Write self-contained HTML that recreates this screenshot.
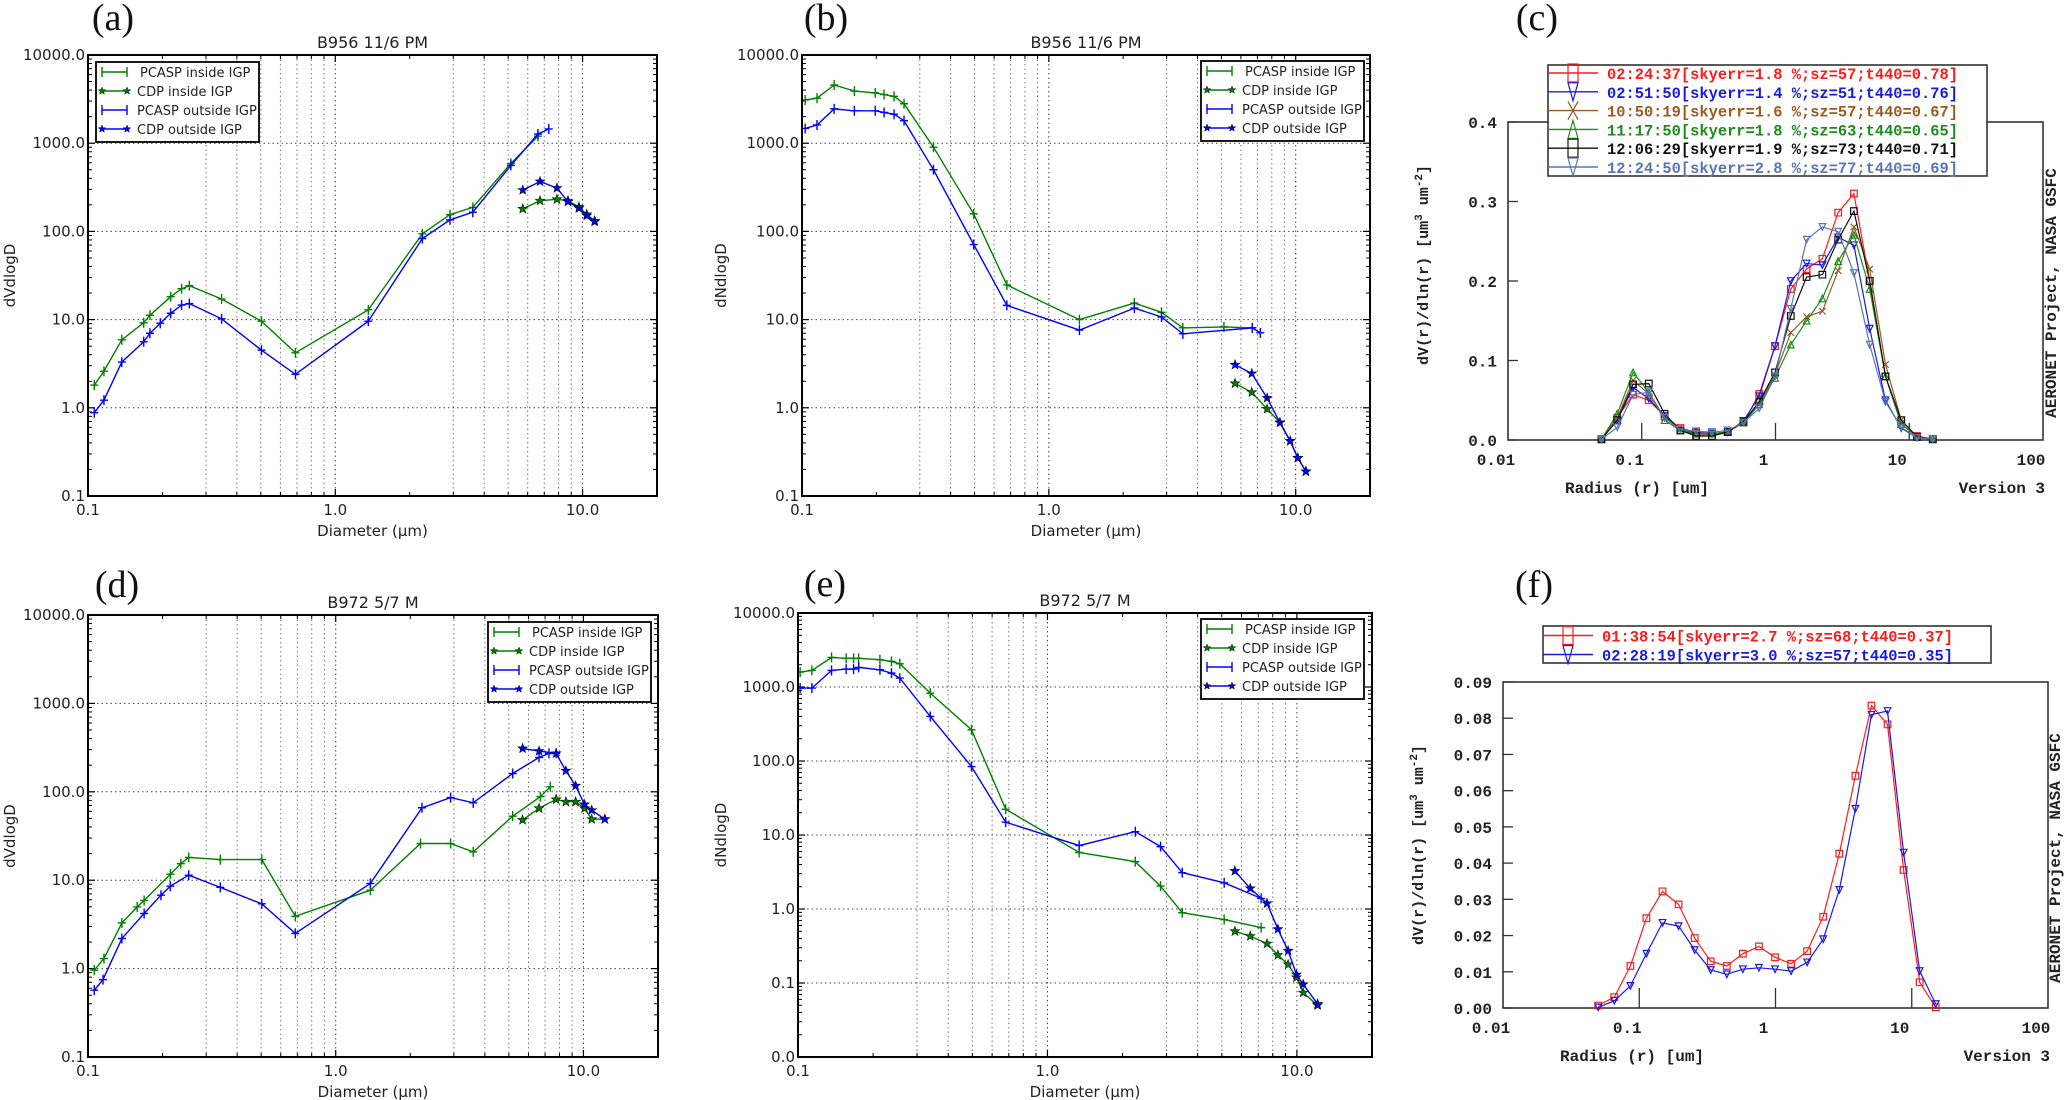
<!DOCTYPE html>
<html><head><meta charset="utf-8"><style>
html,body{margin:0;padding:0;background:#fff;}
svg{display:block;}
.mpl{font-family:"DejaVu Sans","Liberation Sans",sans-serif;}
.aer{font-family:"Liberation Mono","DejaVu Sans Mono",monospace;font-weight:bold;}
.pl{font-family:"Liberation Serif",serif;}
</style></head><body>
<svg id="fig" width="2067" height="1100" viewBox="0 0 2067 1100" xmlns="http://www.w3.org/2000/svg"></svg>
<script>
// ---------- panel (a) data ----------
const aPcaspInD = [0.106,0.116,0.137,0.168,0.178,0.216,0.239,0.257,0.347,0.503,0.69,1.36,2.25,2.91,3.6,5.13,6.6];
const aPcaspInV = [1.81,2.6,5.9,9.2,11.2,18.2,22.4,24.2,17.1,9.6,4.2,12.9,94,155,187,590,1200];
const aPcaspOutD = [0.106,0.116,0.137,0.168,0.178,0.196,0.216,0.239,0.257,0.347,0.503,0.69,1.36,2.25,2.91,3.6,5.13,6.6,7.3];
const aPcaspOutV = [0.88,1.22,3.3,5.6,7.0,9.1,11.8,14.6,15.2,10.2,4.5,2.4,9.6,83,135,165,560,1270,1450];
const aCdpD = [5.73,6.73,7.88,8.73,9.67,10.4,11.2];
const aCdpInV = [180,223,231,223,189,156,132];
const aCdpOutV = [294,368,310,217,183,151,129];
// ---------- panel (b) data ----------
const bPcaspInD = [0.103,0.115,0.135,0.163,0.198,0.215,0.236,0.259,0.341,0.496,0.676,1.33,2.22,2.86,3.49,5.12,6.67];
const bPcaspInV = [3090,3240,4570,3900,3720,3560,3400,2800,900,158,24.7,10,15.4,12.1,8.06,8.27,8.06];
const bPcaspOutD = [0.103,0.115,0.135,0.163,0.198,0.215,0.236,0.259,0.341,0.496,0.676,1.33,2.22,2.86,3.49,6.67,7.19];
const bPcaspOutV = [1470,1610,2450,2330,2330,2230,2130,1800,500,71,14.5,7.6,13.5,10.7,6.9,8.06,7.08];
const bCdpD = [5.68,6.64,7.66,8.63,9.5,10.2,11.0];
const bCdpInV = [1.89,1.5,0.97,0.68,0.42,0.27,0.19];
const bCdpOutV = [3.07,2.45,1.29,0.68,0.42,0.27,0.19];
// ---------- panel (d) data ----------
const dPcaspInD = [0.106,0.116,0.137,0.158,0.1685,0.215,0.237,0.255,0.342,0.503,0.687,1.38,2.2,2.91,3.59,5.18,6.7,7.35];
const dPcaspInV = [0.96,1.3,3.29,4.99,5.9,11.7,15.4,18.1,17.1,17.1,3.9,7.7,26,26,20.9,53,88,114];
const dPcaspOutD = [0.106,0.115,0.137,0.1685,0.197,0.215,0.255,0.342,0.503,0.687,1.38,2.23,2.91,3.59,5.18,6.62,7.26,7.76];
const dPcaspOutV = [0.57,0.75,2.19,4.2,6.76,8.55,11.4,8.3,5.4,2.5,9.2,66,86,75,161,245,272,272];
const dCdpD = [5.68,6.62,7.76,8.5,9.3,10.1,10.8,12.2];
const dCdpInV = [48,65,82,77,77,65,49,49];
const dCdpOutV = [309,289,272,173,117,72,62,49];
// ---------- panel (e) data ----------
const ePcaspD = [0.102,0.1137,0.1363,0.156,0.167,0.175,0.213,0.237,0.256,0.339,0.496,0.68,1.34,2.25,2.84,3.47,5.11,7.19];
const ePcaspInV = [1590,1675,2510,2440,2440,2440,2340,2220,2060,826,264,22.3,5.8,4.36,2.04,0.89,0.72,0.56];
const ePcaspOutV = [966,966,1675,1746,1746,1840,1710,1540,1320,400,84,14.9,7.2,11.1,6.96,3.1,2.26,1.39];
const eCdpD = [5.64,6.5,7.59,8.39,9.22,9.96,10.6,12.1];
const eCdpInV = [0.50,0.43,0.34,0.238,0.178,0.119,0.074,0.050];
const eCdpOutV = [3.26,1.9,1.19,0.535,0.272,0.13,0.096,0.052];
// ---------- AERONET radius bins ----------
const aerR = [0.05,0.0656,0.0861,0.1129,0.1482,0.1944,0.2551,0.3347,0.4392,0.5762,0.7561,0.992,1.3016,1.7078,2.2407,2.94,3.8575,5.0613,6.6407,8.7131,11.4323,15.0];
// ---------- panel (c) data ----------
const cLabels = ["02:24:37[skyerr=1.8 %;sz=57;t440=0.78]","02:51:50[skyerr=1.4 %;sz=51;t440=0.76]","10:50:19[skyerr=1.6 %;sz=57;t440=0.67]","11:17:50[skyerr=1.8 %;sz=63;t440=0.65]","12:06:29[skyerr=1.9 %;sz=73;t440=0.71]","12:24:50[skyerr=2.8 %;sz=77;t440=0.69]"];
const c1 = [0.001,0.028,0.057,0.050,0.030,0.015,0.010,0.008,0.010,0.022,0.058,0.118,0.190,0.215,0.228,0.286,0.310,0.200,0.080,0.020,0.005,0.001];
const c2 = [0.001,0.025,0.066,0.052,0.030,0.013,0.009,0.008,0.010,0.024,0.055,0.118,0.200,0.222,0.220,0.255,0.245,0.140,0.050,0.015,0.003,0.001];
const c3 = [0.001,0.028,0.075,0.058,0.028,0.013,0.006,0.007,0.010,0.022,0.045,0.082,0.135,0.155,0.162,0.213,0.268,0.215,0.095,0.025,0.004,0.001];
const c4 = [0.001,0.033,0.085,0.060,0.025,0.012,0.008,0.008,0.010,0.022,0.045,0.078,0.120,0.150,0.178,0.225,0.258,0.190,0.080,0.020,0.004,0.001];
const c5 = [0.001,0.025,0.070,0.071,0.033,0.012,0.005,0.005,0.010,0.023,0.048,0.085,0.156,0.205,0.208,0.252,0.288,0.200,0.080,0.025,0.004,0.001];
const c6 = [0.001,0.016,0.057,0.060,0.028,0.013,0.011,0.010,0.012,0.022,0.040,0.080,0.165,0.252,0.268,0.262,0.210,0.120,0.048,0.016,0.003,0.001];
const cYTicks = ["0.0","0.1","0.2","0.3","0.4"];
// ---------- panel (f) data ----------
const fLabels = ["01:38:54[skyerr=2.7 %;sz=68;t440=0.37]","02:28:19[skyerr=3.0 %;sz=57;t440=0.35]"];
const f1 = [0.0007,0.003,0.0116,0.0248,0.0322,0.0286,0.0193,0.0129,0.0116,0.015,0.017,0.014,0.0122,0.0157,0.0252,0.0426,0.0641,0.0835,0.0783,0.0381,0.0071,0.0002];
const f2 = [0.0002,0.002,0.0061,0.015,0.0235,0.0226,0.016,0.0105,0.0093,0.0107,0.0111,0.0107,0.0102,0.0126,0.019,0.0326,0.055,0.081,0.082,0.0429,0.0102,0.0011];
const fYTicks = ["0.00","0.01","0.02","0.03","0.04","0.05","0.06","0.07","0.08","0.09"];
const mplYTicks = ["10000.0","1000.0","100.0","10.0","1.0","0.1","0.0"];
const mplXTicks = ["0.1","1.0","10.0"];
const aerXTicks = ["0.01","0.1","1","10","100"];

const NS = "http://www.w3.org/2000/svg";
const fig = document.getElementById('fig');
function mk(tag, name, parent, inter) {
  const el = document.createElementNS(NS, tag);
  
  
  (parent || fig).appendChild(el);
  return el;
}
function at(el, o) { for (const k in o) el.setAttribute(k, o[k]); return el; }
function txt(name, parent, x, y, s, o) { const t = mk('text', name, parent); at(t, Object.assign({x:x, y:y}, o || {})); t.textContent = s; return t; }

// ---------------- matplotlib style log-log panels ----------------
function mkLog(p) {
  p.lx = v => p.x0 + (Math.log10(v) - Math.log10(p.xmin)) / (Math.log10(p.xmax) - Math.log10(p.xmin)) * (p.x1 - p.x0);
  p.ly = v => p.y0 + (Math.log10(p.ymax) - Math.log10(v)) / (Math.log10(p.ymax) - Math.log10(p.ymin)) * (p.y1 - p.y0);
  return p;
}
function starPath(cx, cy, r) {
  let d = '';
  for (let i = 0; i < 10; i++) {
    const rr = i % 2 ? r * 0.42 : r;
    const a = -Math.PI / 2 + i * Math.PI / 5;
    d += (i ? 'L' : 'M') + (cx + rr * Math.cos(a)).toFixed(1) + ' ' + (cy + rr * Math.sin(a)).toFixed(1);
  }
  return d + 'Z';
}
function mplSeries(p, g, D, V, color, mark, name) {
  const sg = mk('g', name, g);
  const pts = D.map((d, i) => p.lx(d).toFixed(1) + ',' + p.ly(V[i]).toFixed(1)).join(' ');
  const pl = mk('polyline', name + '-line', sg);
  at(pl, {points: pts, fill: 'none', stroke: color, 'stroke-width': 1.4});
  D.forEach((d, i) => {
    const x = p.lx(d), y = p.ly(V[i]);
    if (mark === 'plus') {
      const m = mk('path', name + '-marker', sg);
      at(m, {d: `M${x-4} ${y}H${x+4}M${x} ${y-5}V${y+5}`, stroke: color, 'stroke-width': 1.4});
    } else {
      const m = mk('path', name + '-marker', sg);
      at(m, {d: starPath(x, y, 5), fill: color, stroke: '#111', 'stroke-width': 0.6});
    }
  });
}
function mplPanel(p) {
  const g = mk('g', p.id, fig);
  g.setAttribute('class', 'mpl');
  const cid = 'clip-' + p.id;
  const cp = mk('clipPath', cid, g); cp.setAttribute('id', cid);
  const cr = mk('rect', cid + '-rect', cp); at(cr, {x: p.x0, y: p.y0, width: p.x1 - p.x0, height: p.y1 - p.y0});
  const gg = mk('g', p.id + '-grid', g);
  // vertical grid
  for (let e = -1; e <= 1; e++) for (let k = 1; k <= 9; k++) {
    const v = k * Math.pow(10, e); if (v < p.xmin || v > p.xmax) continue;
    const x = p.lx(v);
    if (k > 1 && (k === 2 && e < 1)) continue;
    const l = mk('line', k === 1 ? 'x-major-gridline' : 'x-minor-gridline', gg);
    at(l, {x1: x, x2: x, y1: p.y0, y2: p.y1, stroke: k === 1 ? '#444' : '#777', 'stroke-width': 1, 'stroke-dasharray': '1.5,3'});
  }
  // horizontal grid & y ticks
  const nd = Math.round(Math.log10(p.ymax) - Math.log10(p.ymin));
  for (let i = 0; i <= nd; i++) {
    const v = p.ymax / Math.pow(10, i); const y = p.ly(v);
    if (i > 0 && i < nd) { const l = mk('line', 'y-major-gridline', gg); at(l, {x1: p.x0, x2: p.x1, y1: y, y2: y, stroke: '#444', 'stroke-width': 1, 'stroke-dasharray': '1.5,3'}); }
    const lab = txt('y-tick-label', g, p.x0 - 3, y + 5, mplYTicks[Math.min(i + (p.ymax === 1e4 ? 0 : 0), mplYTicks.length - 1)], {'text-anchor': 'end', 'font-size': 15, fill: '#222'});
    if (i === nd && p.ymin < 0.1) lab.textContent = '0.0';
    for (const side of [p.x0, p.x1]) {
      const t = mk('line', 'y-major-tick', g); const dir = side === p.x0 ? 1 : -1;
      at(t, {x1: side, x2: side + dir * 7, y1: y, y2: y, stroke: '#000', 'stroke-width': 1.2});
      if (i < nd) for (let k = 2; k <= 9; k++) {
        const yy = p.ly(v / 10 * k);
        const tm = mk('line', 'y-minor-tick', g);
        at(tm, {x1: side, x2: side + dir * 4, y1: yy, y2: yy, stroke: '#000', 'stroke-width': 1});
      }
    }
  }
  // x ticks
  mplXTicks.forEach((s, i) => {
    const v = 0.1 * Math.pow(10, i); const x = p.lx(v);
    txt('x-tick-label', g, x, p.y1 + 19, s, {'text-anchor': 'middle', 'font-size': 15, fill: '#222'});
    for (const side of [p.y0, p.y1]) { const t = mk('line', 'x-major-tick', g); const dir = side === p.y1 ? -1 : 1; at(t, {x1: x, x2: x, y1: side, y2: side + dir * 7, stroke: '#000', 'stroke-width': 1.2}); }
    for (let k = 2; k <= 9; k++) { const vv = v * k; if (vv > p.xmax) continue; const xx = p.lx(vv);
      for (const side of [p.y0, p.y1]) { const t = mk('line', 'x-minor-tick', g); const dir = side === p.y1 ? -1 : 1; at(t, {x1: xx, x2: xx, y1: side, y2: side + dir * 4, stroke: '#000', 'stroke-width': 1}); } }
  });
  // series
  const sg = mk('g', p.id + '-series', g); sg.setAttribute('clip-path', 'url(#' + cid + ')');
  mplSeries(p, sg, p.piD, p.piV, '#008000', 'plus', 'pcasp-inside-igp');
  mplSeries(p, sg, p.cD, p.ciV, '#008000', 'star', 'cdp-inside-igp');
  mplSeries(p, sg, p.poD, p.poV, '#0000ff', 'plus', 'pcasp-outside-igp');
  mplSeries(p, sg, p.cD, p.coV, '#0000ff', 'star', 'cdp-outside-igp');
  // frame
  const fr = mk('rect', p.id + '-frame', g);
  at(fr, {x: p.x0, y: p.y0, width: p.x1 - p.x0, height: p.y1 - p.y0, fill: 'none', stroke: '#000', 'stroke-width': 2});
  // legend
  const lg = mk('g', 'legend', g, true);
  const lb = mk('rect', 'legend-box', lg);
  at(lb, {x: p.lgx, y: p.lgy, width: 163, height: 80, fill: '#fff', stroke: '#000', 'stroke-width': 1.8});
  const items = [['PCASP inside IGP', '#008000', 'plus'], ['CDP inside IGP', '#008000', 'star'], ['PCASP outside IGP', '#0000ff', 'plus'], ['CDP outside IGP', '#0000ff', 'star']];
  items.forEach((it, i) => {
    const y = p.lgy + 10 + 19 * i; const x0 = p.lgx + 6, x1 = p.lgx + 31;
    const ent = mk('g', 'legend-entry', lg, true);
    const l = mk('line', 'legend-line', ent); at(l, {x1: x0, x2: x1, y1: y, y2: y, stroke: it[1], 'stroke-width': 1.4});
    for (const xx of [x0, x1]) {
      const m = mk('path', 'legend-marker', ent);
      if (it[2] === 'plus') at(m, {d: `M${xx} ${y-5}V${y+5}`, stroke: it[1], 'stroke-width': 1.4});
      else at(m, {d: starPath(xx, y, 4), fill: it[1], stroke: '#111', 'stroke-width': 0.5});
    }
    txt('legend-label', ent, p.lgx + (i === 0 ? 44 : 41), y + 5, it[0], {'font-size': 13, fill: '#222'});
  });
  // titles
  txt('chart-title', g, (p.x0 + p.x1) / 2, p.y0 - 7, p.title, {'text-anchor': 'middle', 'font-size': 16, fill: '#222'});
  txt('x-axis-title', g, (p.x0 + p.x1) / 2, p.y1 + 40, 'Diameter (\u00b5m)', {'text-anchor': 'middle', 'font-size': 15, fill: '#222'});
  const yt = txt('y-axis-title', g, 0, 0, p.ylab, {'text-anchor': 'middle', 'font-size': 15, fill: '#222'});
  yt.setAttribute('transform', `translate(${p.ylx},${(p.y0 + p.y1) / 2}) rotate(-90)`);
  const pl = txt('panel-label', fig, p.plx, p.ply, p.plab, {'text-anchor': 'middle', 'font-size': 38, fill: '#111'});
  pl.setAttribute('class', 'pl');
}

mplPanel(mkLog({id: 'panel-a', x0: 88, x1: 657, y0: 55, y1: 496, xmin: 0.1, xmax: 20, ymin: 0.1, ymax: 1e4,
  piD: aPcaspInD, piV: aPcaspInV, poD: aPcaspOutD, poV: aPcaspOutV, cD: aCdpD, ciV: aCdpInV, coV: aCdpOutV,
  lgx: 96, lgy: 62, title: 'B956 11/6 PM', ylab: 'dVdlogD', ylx: 15, plab: '(a)', plx: 113, ply: 30}));
mplPanel(mkLog({id: 'panel-b', x0: 802, x1: 1370, y0: 55, y1: 496, xmin: 0.1, xmax: 20, ymin: 0.1, ymax: 1e4,
  piD: bPcaspInD, piV: bPcaspInV, poD: bPcaspOutD, poV: bPcaspOutV, cD: bCdpD, ciV: bCdpInV, coV: bCdpOutV,
  lgx: 1201, lgy: 61, title: 'B956 11/6 PM', ylab: 'dNdlogD', ylx: 726, plab: '(b)', plx: 826, ply: 30}));
mplPanel(mkLog({id: 'panel-d', x0: 88, x1: 658, y0: 615, y1: 1057, xmin: 0.1, xmax: 20, ymin: 0.1, ymax: 1e4,
  piD: dPcaspInD, piV: dPcaspInV, poD: dPcaspOutD, poV: dPcaspOutV, cD: dCdpD, ciV: dCdpInV, coV: dCdpOutV,
  lgx: 488, lgy: 622, title: 'B972 5/7 M', ylab: 'dVdlogD', ylx: 15, plab: '(d)', plx: 117, ply: 597}));
mplPanel(mkLog({id: 'panel-e', x0: 798, x1: 1372, y0: 613, y1: 1057, xmin: 0.1, xmax: 20, ymin: 0.01, ymax: 1e4,
  piD: ePcaspD, piV: ePcaspInV, poD: ePcaspD, poV: ePcaspOutV, cD: eCdpD, ciV: eCdpInV, coV: eCdpOutV,
  lgx: 1201, lgy: 619, title: 'B972 5/7 M', ylab: 'dNdlogD', ylx: 726, plab: '(e)', plx: 825, ply: 596}));

// ---------------- AERONET panels ----------------
function aerPanel(q) {
  q.lx = v => q.x0 + (Math.log10(v) + 2) / 4 * (q.x1 - q.x0);
  q.ly = v => q.y1 - v / q.ymax * (q.y1 - q.y0);
  const g = mk('g', q.id, fig); g.setAttribute('class', 'aer');
  // frame
  const fr = mk('rect', q.id + '-frame', g);
  at(fr, {x: q.x0, y: q.y0, width: q.x1 - q.x0, height: q.y1 - q.y0, fill: 'none', stroke: '#333', 'stroke-width': 1.6});
  // y ticks
  q.yt.forEach((s, i) => {
    const v = q.ymax * i / (q.yt.length - 1); const y = q.ly(v);
    const t = mk('line', 'y-tick', g); at(t, {x1: q.x0, x2: q.x0 + 10, y1: y, y2: y, stroke: '#333', 'stroke-width': 1.3});
    txt('y-tick-label', g, q.x0 - 11, y + 6, s, {'text-anchor': 'end', 'font-size': 16, fill: '#222'});
  });
  aerXTicks.forEach((s, i) => {
    const x = q.lx(0.01 * Math.pow(10, i));
    if (i > 0 && i < 4) { const t = mk('line', 'x-tick', g); at(t, {x1: x, x2: x, y1: q.y1, y2: q.y1 - q.tk, stroke: '#333', 'stroke-width': 1.3}); }
    txt('x-tick-label', g, x - 12, q.y1 + 25, s, {'text-anchor': 'middle', 'font-size': 16, fill: '#222'});
  });
  // series
  q.series.forEach((sv, si) => {
    const col = q.colors[si];
    const sg = mk('g', 'series-' + q.labels[si].slice(0, 8).replace(/:/g, ''), g);
    const pl = mk('polyline', 'series-line', sg);
    at(pl, {points: aerR.map((r, i) => q.lx(r).toFixed(1) + ',' + q.ly(sv[i]).toFixed(1)).join(' '), fill: 'none', stroke: col, 'stroke-width': 1.2});
    aerR.forEach((r, i) => { aerMarker(sg, q.markers[si], q.lx(r), q.ly(sv[i]), 3.3, 3.3, col, 'series-marker'); });
  });
  // legend
  const lg = mk('g', 'legend', g, true);
  const lb = mk('rect', 'legend-box', lg);
  at(lb, {x: q.lgx, y: q.lgy, width: q.lgw, height: q.lgh, fill: '#fff', stroke: '#333', 'stroke-width': 1.6});
  q.labels.forEach((s, i) => {
    const y = q.lgy + q.rowDy0 + i * q.rowDy; const col = q.colors[i];
    const ent = mk('g', 'legend-entry', lg, true);
    const l = mk('line', 'legend-line', ent); at(l, {x1: q.lgx, x2: q.lgx + 50, y1: y, y2: y, stroke: col, 'stroke-width': 1.4});
    aerMarker(ent, q.markers[i], q.lgx + 25, y, 5, 9, col, 'legend-marker');
    txt('legend-label', ent, q.lgx + 59, y + 6, s, {'font-size': 15.4, fill: col});
  });
  const xt = txt('x-axis-title', g, q.x0 + 57, q.y1 + 53, 'Radius (r) [um]', {'font-size': 16, fill: '#222'});
  txt('version-label', g, q.x1 + 2, q.y1 + 53, 'Version 3', {'text-anchor': 'end', 'font-size': 16, fill: '#222'});
  const ag = txt('credit-label', g, 0, 0, 'AERONET Project, NASA GSFC', {'text-anchor': 'middle', 'font-size': 16, fill: '#222'});
  ag.setAttribute('transform', `translate(${q.crx},${q.cry}) rotate(-90)`);
  const yt = mk('text', 'y-axis-title', g);
  at(yt, {'text-anchor': 'middle', 'font-size': 15, fill: '#222', transform: `translate(${q.ytx},${q.yty}) rotate(-90)`});
  yt.innerHTML = 'dV(r)/dln(r) [um<tspan dy="-6" font-size="11">3</tspan><tspan dy="6"> um</tspan><tspan dy="-6" font-size="11">-2</tspan><tspan dy="6">]</tspan>';
  const pl = txt('panel-label', fig, q.plx, q.ply, q.plab, {'text-anchor': 'middle', 'font-size': 38, fill: '#111'});
  pl.setAttribute('class', 'pl');
}
function aerMarker(parent, type, x, y, w, h, col, name) {
  const m = mk('path', name, parent);
  let d;
  if (type === 'sq') d = `M${x-w} ${y-h}H${x+w}V${y+h}H${x-w}Z`;
  else if (type === 'tdn') d = `M${x-w} ${y-h}H${x+w}L${x} ${y+h}Z`;
  else if (type === 'tup') d = `M${x-w} ${y+h}H${x+w}L${x} ${y-h}Z`;
  else d = `M${x-w} ${y-h}L${x+w} ${y+h}M${x+w} ${y-h}L${x-w} ${y+h}`;
  at(m, {d: d, fill: 'none', stroke: col, 'stroke-width': 1.2});
}
aerPanel({id: 'panel-c', x0: 1508, x1: 2043, y0: 122, y1: 440, ymax: 0.4, yt: cYTicks, tk: 17,
  series: [c1, c2, c3, c4, c5, c6], labels: cLabels,
  colors: ['#ff1a1a', '#1a1adf', '#9a5a20', '#1c8c1c', '#111111', '#5a74b4'],
  markers: ['sq', 'tdn', 'x', 'tup', 'sq', 'tdn'],
  lgx: 1548, lgy: 65, lgw: 439, lgh: 111, rowDy0: 8, rowDy: 18.8,
  crx: 2056, cry: 293, ytx: 1428, yty: 265, plab: '(c)', plx: 1537, ply: 30});
aerPanel({id: 'panel-f', x0: 1503, x1: 2048, y0: 682, y1: 1008, ymax: 0.09, yt: fYTicks, tk: 20,
  series: [f1, f2], labels: fLabels,
  colors: ['#ff1a1a', '#1a1adf'], markers: ['sq', 'tdn'],
  lgx: 1543, lgy: 626, lgw: 448, lgh: 37, rowDy0: 9.5, rowDy: 19,
  crx: 2060, cry: 858, ytx: 1423, yty: 845, plab: '(f)', plx: 1534, ply: 597});
</script>
</body></html>
